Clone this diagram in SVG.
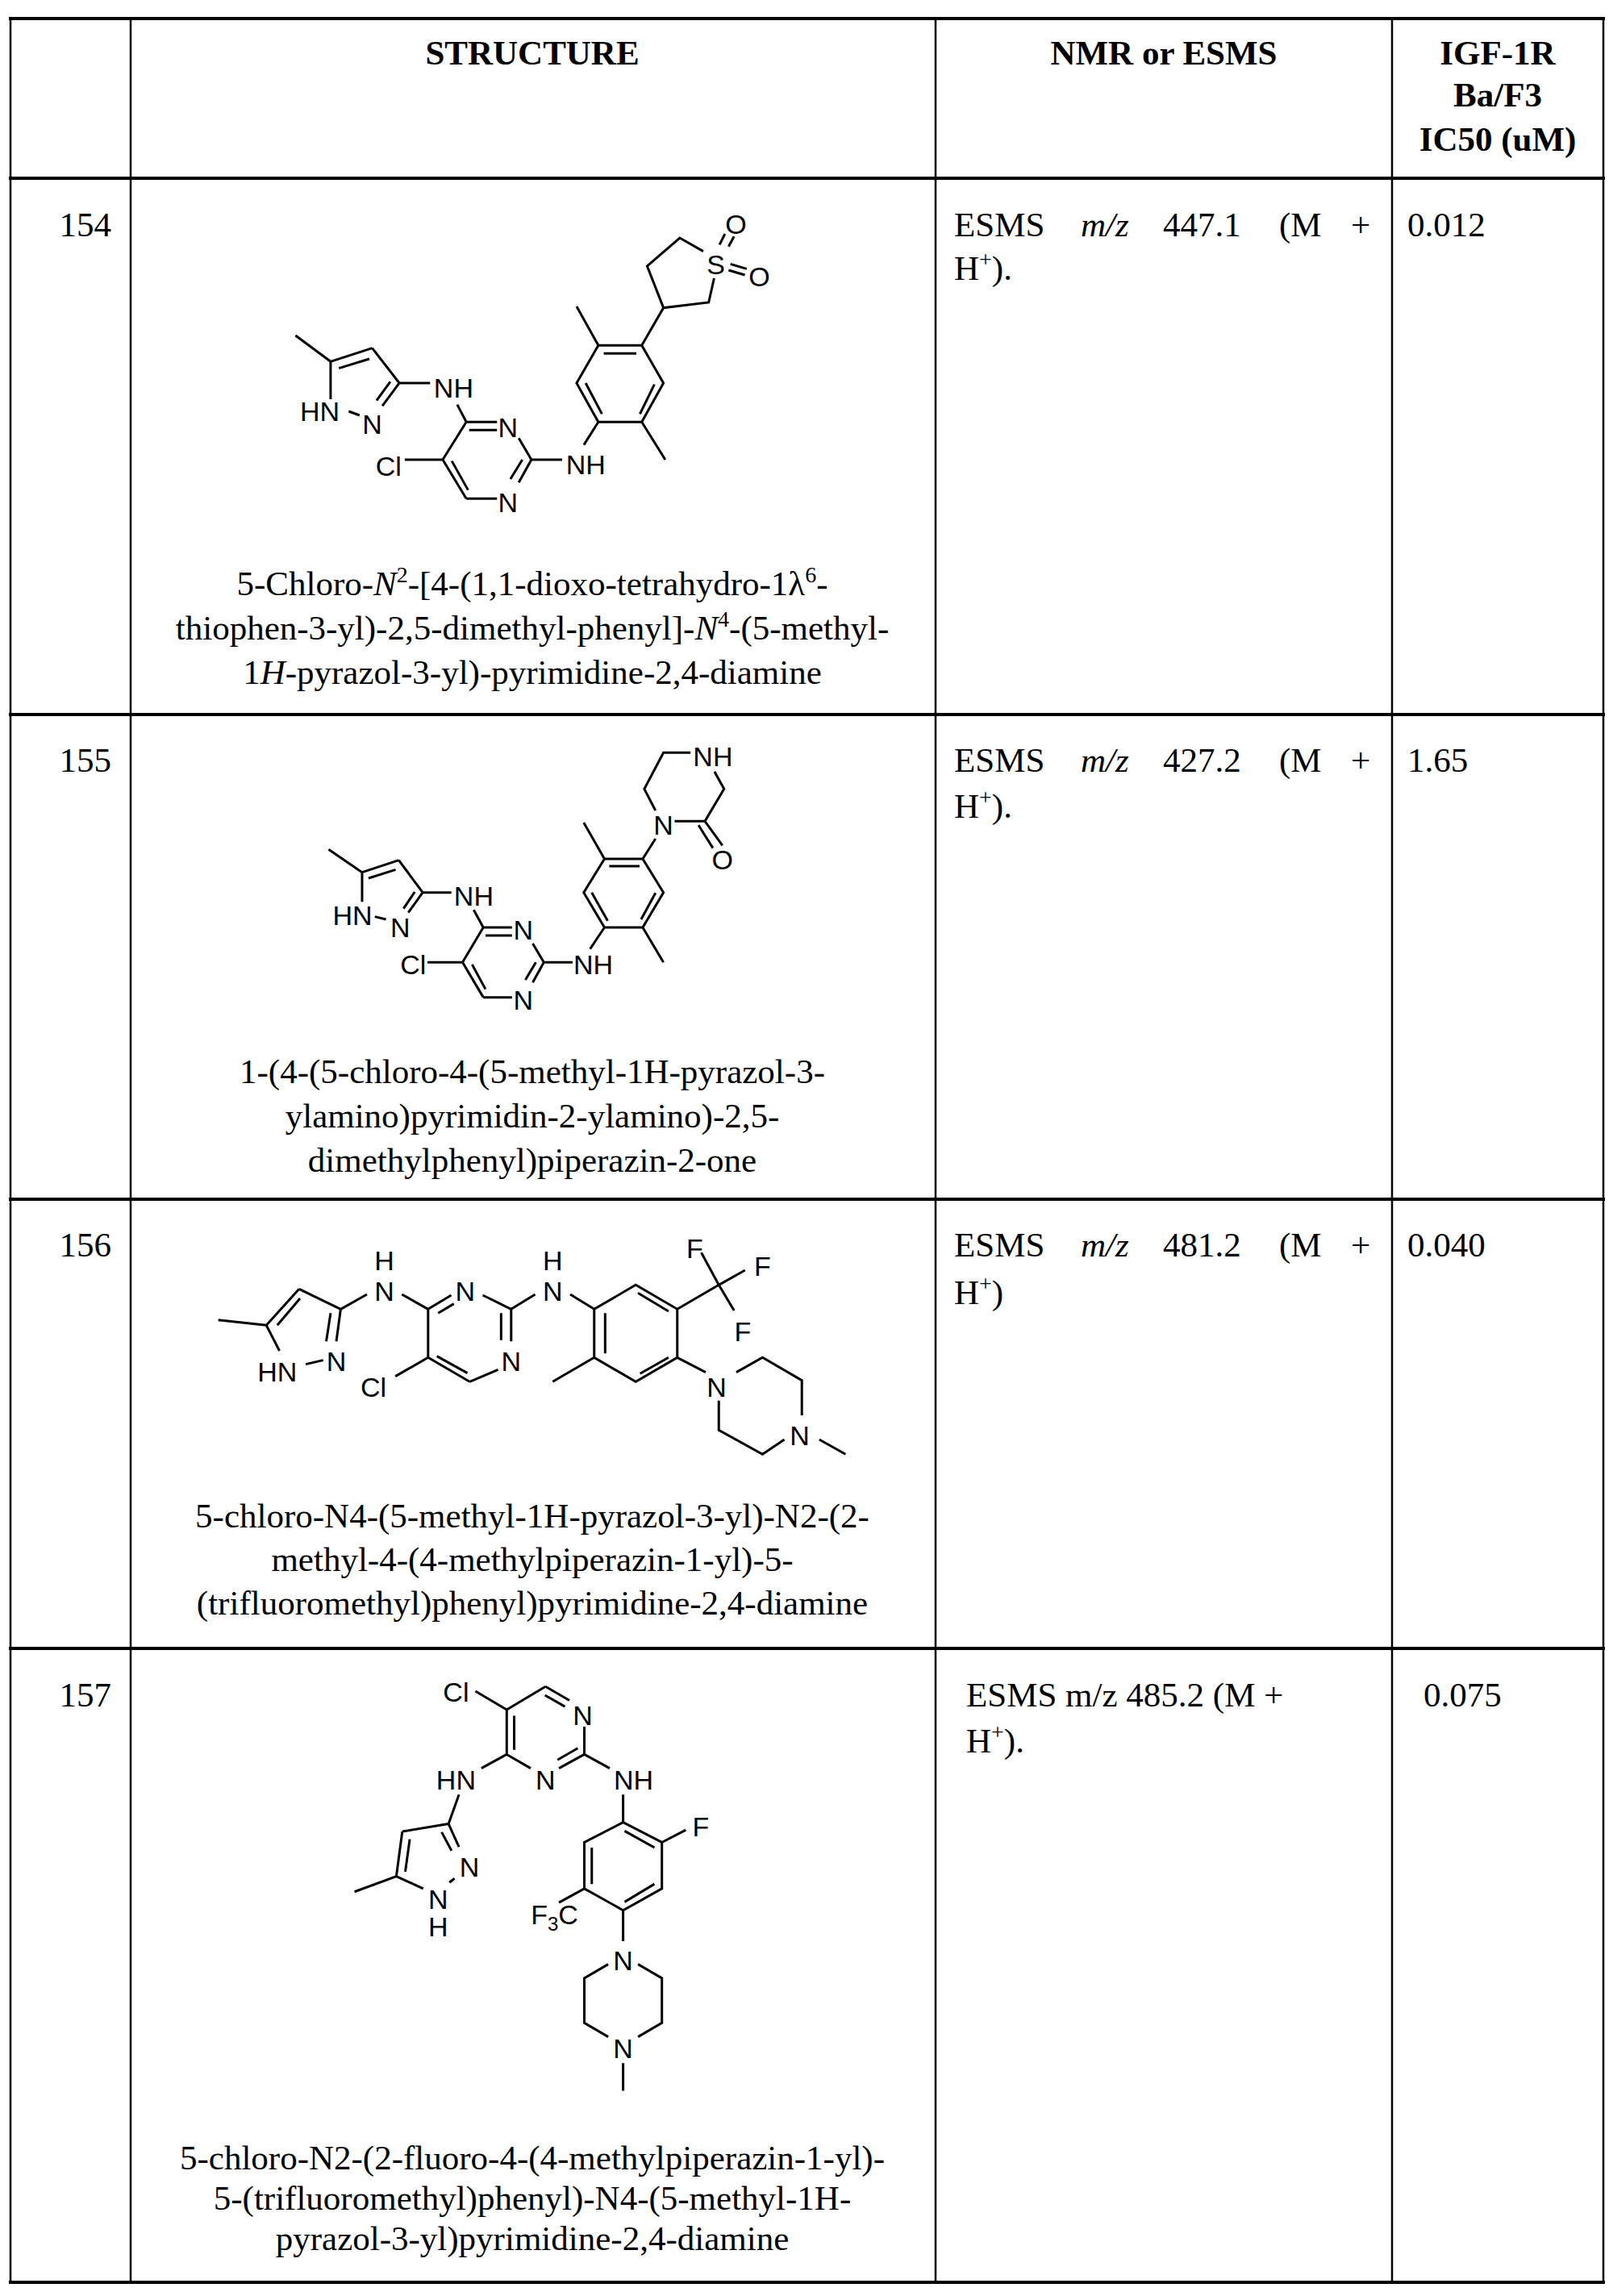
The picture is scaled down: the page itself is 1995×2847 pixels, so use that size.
<svg xmlns="http://www.w3.org/2000/svg" width="1995" height="2847" viewBox="0 0 1995 2847">
<style>
.t{font-family:"Liberation Serif","Times New Roman",serif;font-size:43px;fill:#000}
.h{font-family:"Liberation Serif","Times New Roman",serif;font-size:43px;font-weight:bold;fill:#000;text-anchor:middle}
.c{text-anchor:middle}
.a{font-family:"Liberation Sans",Arial,sans-serif;font-size:34px;fill:#000;text-anchor:middle}
.b{fill:none;stroke:#000;stroke-width:3;vector-effect:non-scaling-stroke;stroke-linecap:butt}
.hl{stroke:#000;stroke-width:4}
.vl{stroke:#000;stroke-width:2.5}
</style>
<rect width="1995" height="2847" fill="#fff"/>
<g id="table">
<line class="hl" x1="11" y1="23" x2="1990" y2="23"/>
<line class="hl" x1="11" y1="221" x2="1990" y2="221"/>
<line class="hl" x1="11" y1="886" x2="1990" y2="886"/>
<line class="hl" x1="11" y1="1487" x2="1990" y2="1487"/>
<line class="hl" x1="11" y1="2044" x2="1990" y2="2044"/>
<line class="hl" x1="11" y1="2830" x2="1990" y2="2830"/>
<line class="vl" x1="13" y1="21" x2="13" y2="2832"/>
<line class="vl" x1="162" y1="21" x2="162" y2="2832"/>
<line class="vl" x1="1160" y1="21" x2="1160" y2="2832"/>
<line class="vl" x1="1726" y1="21" x2="1726" y2="2832"/>
<line class="vl" x1="1988" y1="21" x2="1988" y2="2832"/>
</g>
<g id="header">
<text class="h" x="660" y="80">STRUCTURE</text>
<text class="h" x="1443" y="80">NMR or ESMS</text>
<text class="h" x="1857" y="80">IGF-1R</text>
<text class="h" x="1857" y="132">Ba/F3</text>
<text class="h" x="1857" y="187">IC50 (uM)</text>
</g>
<g id="row154">
<text class="t" x="138" y="293" text-anchor="end">154</text>
<text class="t" y="293"><tspan x="1183">ESMS</tspan><tspan x="1340" font-style="italic">m/z</tspan><tspan x="1442">447.1</tspan><tspan x="1586">(M</tspan><tspan x="1675">+</tspan></text>
<text class="t" x="1183" y="347">H<tspan dy="-16" font-size="28">+</tspan><tspan dy="16">).</tspan></text>
<text class="t" x="1745" y="293">0.012</text>
<text class="t c" x="660" y="738">5-Chloro-<tspan font-style="italic">N</tspan><tspan dy="-16" font-size="28">2</tspan><tspan dy="16">-[4-(1,1-dioxo-tetrahydro-1λ</tspan><tspan dy="-16" font-size="28">6</tspan><tspan dy="16">-</tspan></text>
<text class="t c" x="660" y="793">thiophen-3-yl)-2,5-dimethyl-phenyl]-<tspan font-style="italic">N</tspan><tspan dy="-16" font-size="28">4</tspan><tspan dy="16">-(5-methyl-</tspan></text>
<text class="t c" x="660" y="848">1<tspan font-style="italic">H</tspan>-pyrazol-3-yl)-pyrimidine-2,4-diamine</text>
</g>
<g id="mol154">
<path class="b" transform="translate(300,240) scale(0.4486,0.3333)" d="M148 528L245 625M245 625L360 575M268 650L352 615M360 575L435 705M435 705L388 790M410 700L372 770M245 625L245 765M295 810L325 825M435 705L520 705M595 785L620 850M620 850L705 850M628 880L705 880M765 910L800 990M800 990L765 1075M775 990L742 1062M705 1135L620 1135M620 1135L555 990M625 1103L580 995M555 990L620 850M450 990L555 990M800 990L885 990M945 935L985 850M985 850L1105 850L1165 705L1105 565L985 565L925 705L985 850M1000 595L1090 595M1100 820L1140 710M950 705L995 820M985 565L925 420M1105 850L1170 990M1105 565L1165 425L1290 405L1305 315M1275 215L1210 165L1120 270L1165 425M1320 190L1335 150M1345 197L1360 160M1350 262L1395 280M1345 285L1390 303"/>
<text class="a" x="396.5" y="521.7">HN</text>
<text class="a" x="461.5" y="538.3">N</text>
<text class="a" x="562.4" y="493.3">NH</text>
<text class="a" x="629.7" y="541.7">N</text>
<text class="a" x="629.7" y="635">N</text>
<text class="a" x="481.7" y="590">Cl</text>
<text class="a" x="726.2" y="588.3">NH</text>
<text class="a" x="887.7" y="340">S</text>
<text class="a" x="912.4" y="290">O</text>
<text class="a" x="941.5" y="355">O</text>
</g>
<g id="row155">
<text class="t" x="138" y="957" text-anchor="end">155</text>
<text class="t" y="957"><tspan x="1183">ESMS</tspan><tspan x="1340" font-style="italic">m/z</tspan><tspan x="1442">427.2</tspan><tspan x="1586">(M</tspan><tspan x="1675">+</tspan></text>
<text class="t" x="1183" y="1014">H<tspan dy="-16" font-size="28">+</tspan><tspan dy="16">).</tspan></text>
<text class="t" x="1745" y="957">1.65</text>
<text class="t c" x="660" y="1343">1-(4-(5-chloro-4-(5-methyl-1H-pyrazol-3-</text>
<text class="t c" x="660" y="1398">ylamino)pyrimidin-2-ylamino)-2,5-</text>
<text class="t c" x="660" y="1453">dimethylphenyl)piperazin-2-one</text>
</g>
<g id="mol155">
<path class="b" transform="translate(360,900) scale(0.3954,0.3333)" d="M120 460L225 545M225 545L340 500M245 567L330 535M340 500L415 620M415 620L370 695M390 618L355 680M225 545L225 655M265 710L300 720M415 620L505 620M575 685L605 750M605 750L695 750M612 780L695 780M760 810L795 880M795 880L760 955M770 880L737 945M695 1010L605 1010M605 1010L540 880M612 980L570 888M540 880L605 750M430 880L540 880M795 880L885 880M940 830L985 750M985 750L1105 750L1170 620L1105 495L985 495L920 620L985 750M1000 522L1095 522M1100 720L1145 622M945 620L995 725M985 495L920 360M1105 750L1170 880M1105 495L1145 420M1145 315L1110 235L1170 100L1255 100M1330 170L1360 235L1300 355L1205 355M1300 355L1355 445M1280 370L1325 455"/>
<text class="a" x="437.1" y="1146.7">HN</text>
<text class="a" x="496.4" y="1161.7">N</text>
<text class="a" x="587.4" y="1123.3">NH</text>
<text class="a" x="512.2" y="1208.3">Cl</text>
<text class="a" x="648.7" y="1165">N</text>
<text class="a" x="648.7" y="1251.7">N</text>
<text class="a" x="735.6" y="1208.3">NH</text>
<text class="a" x="822.6" y="1035">N</text>
<text class="a" x="883.9" y="950">NH</text>
<text class="a" x="895.8" y="1078.3">O</text>
</g>
<g id="row156">
<text class="t" x="138" y="1558" text-anchor="end">156</text>
<text class="t" y="1558"><tspan x="1183">ESMS</tspan><tspan x="1340" font-style="italic">m/z</tspan><tspan x="1442">481.2</tspan><tspan x="1586">(M</tspan><tspan x="1675">+</tspan></text>
<text class="t" x="1183" y="1617">H<tspan dy="-16" font-size="28">+</tspan><tspan dy="16">)</tspan></text>
<text class="t" x="1745" y="1558">0.040</text>
<text class="t c" x="660" y="1894">5-chloro-N4-(5-methyl-1H-pyrazol-3-yl)-N2-(2-</text>
<text class="t c" x="660" y="1948">methyl-4-(4-methylpiperazin-1-yl)-5-</text>
<text class="t c" x="660" y="2002">(trifluoromethyl)phenyl)pyrimidine-2,4-diamine</text>
</g>
<g id="mol156">
<path class="b" transform="translate(230,1500) scale(0.542,0.3333)" d="M75 410L185 430M185 430L260 295M210 430L262 330M260 295L355 370M355 370L345 490M332 385L322 490M185 430L215 525M275 575L315 560M355 370L415 315M495 315L555 370M555 370L608 318M578 385L614 350M680 318L745 370M745 370L745 490M722 385L722 485M715 595L650 640M650 640L555 550M645 608L575 545M555 550L555 370M555 550L480 620M745 370L800 315M880 315L935 370M935 370L1030 280L1125 370L1125 550L1030 640L935 550L935 370M960 385L960 535M1035 310L1105 378M1105 550L1040 610M935 550L840 640M1125 370L1220 280M1220 280L1180 160M1220 280L1280 225M1220 280L1255 375M1125 550L1190 605M1260 605L1320 550L1410 635L1410 765M1370 855L1320 910L1220 820L1220 710M1450 855L1510 910"/>
<text class="a" x="343.8" y="1713.3">HN</text>
<text class="a" x="417" y="1700">N</text>
<text class="a" x="476.6" y="1613.3">N</text>
<text class="a" x="476.6" y="1575">H</text>
<text class="a" x="576.9" y="1613.3">N</text>
<text class="a" x="633.8" y="1700">N</text>
<text class="a" x="463" y="1731.7">Cl</text>
<text class="a" x="685.3" y="1613.3">N</text>
<text class="a" x="685.3" y="1575">H</text>
<text class="a" x="861.4" y="1560">F</text>
<text class="a" x="945.4" y="1581.7">F</text>
<text class="a" x="921" y="1663.3">F</text>
<text class="a" x="888.5" y="1731.7">N</text>
<text class="a" x="991.5" y="1791.7">N</text>
</g>
<g id="row157">
<text class="t" x="138" y="2116" text-anchor="end">157</text>
<text class="t" x="1198" y="2116">ESMS m/z 485.2 (M +</text>
<text class="t" x="1198" y="2173">H<tspan dy="-16" font-size="28">+</tspan><tspan dy="16">).</tspan></text>
<text class="t" x="1765" y="2116">0.075</text>
<text class="t c" x="660" y="2690">5-chloro-N2-(2-fluoro-4-(4-methylpiperazin-1-yl)-</text>
<text class="t c" x="660" y="2740">5-(trifluoromethyl)phenyl)-N4-(5-methyl-1H-</text>
<text class="t c" x="660" y="2790">pyrazol-3-yl)pyrimidine-2,4-diamine</text>
</g>
<g id="mol157">
<path class="b" transform="translate(410,2030) scale(0.37,0.3827)" d="M485 175L590 235M590 235L720 160M720 160L800 205M718 188L785 225M850 290L850 380M850 380L765 425M828 360L760 398M670 425L590 380M590 380L590 235M615 365L615 255M590 380L505 425M430 510L395 605M395 605L240 630M240 630L220 775M265 655L250 760M220 775L310 815M398 795L415 782M430 680L395 605M405 692L372 632M220 775L80 825M850 380L935 425M980 510L980 600M980 600L1110 665L1110 815L980 885L850 815L850 665L980 600M985 628L1085 682M1085 800L985 858M875 682L875 800M1110 665L1190 625M850 815L765 860M980 885L980 985M930 1060L850 1105L850 1250L930 1295M1030 1295L1110 1250L1110 1105L1030 1060M980 1380L980 1470"/>
<text class="a" x="565.4" y="2110.4">Cl</text>
<text class="a" x="722.6" y="2139.1">N</text>
<text class="a" x="676.4" y="2219.4">N</text>
<text class="a" x="565.4" y="2219.4">HN</text>
<text class="a" x="785.5" y="2219.4">NH</text>
<text class="a" x="582" y="2326.6">N</text>
<text class="a" x="543.2" y="2366.8">N</text>
<text class="a" x="543.2" y="2401.2">H</text>
<text class="a" x="868.8" y="2276.8">F</text>
<text class="a" x="687.5" y="2385.9" text-anchor="end">F<tspan font-size="24" dy="8">3</tspan><tspan dy="-8">C</tspan></text>
<text class="a" x="772.6" y="2443.3">N</text>
<text class="a" x="772.6" y="2552.4">N</text>
</g>
</svg>
